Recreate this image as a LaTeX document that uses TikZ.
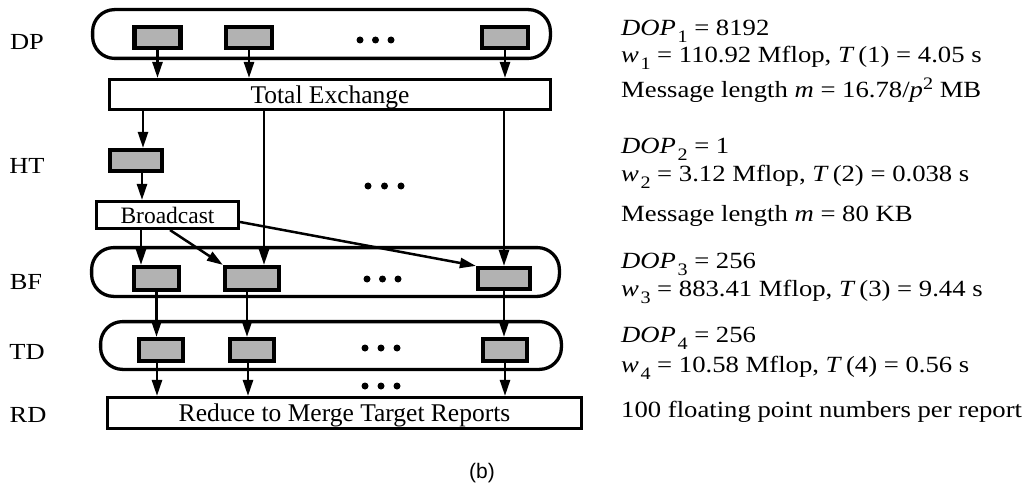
\documentclass[tikz,border=0pt]{standalone}
\usepackage{fontspec}
\setmainfont{Liberation Serif}
\newfontfamily\rfont{Liberation Serif}[FakeStretch=1.15]
\newfontfamily\lfont{Liberation Serif}[FakeStretch=1.15]
\newfontfamily\bfont{Liberation Sans}
\usetikzlibrary{arrows.meta}
\definecolor{boxgray}{RGB}{178,178,178}
\newcommand{\sbx}[1]{\kern1.5pt\raisebox{-7pt}{\fontsize{17.5}{18}\selectfont #1}}
\newcommand{\spx}[1]{\raisebox{8pt}{\fontsize{17.5}{18}\selectfont #1}}
\begin{document}
\begin{tikzpicture}[x=1pt,y=-1pt,
  cont/.style={draw, line width=3.3pt, rounded corners=22pt, inner sep=0pt, minimum height=48.8pt},
  gbox/.style={draw, fill=boxgray, line width=4.4pt, inner sep=0pt, minimum height=20.8pt},
  wbox/.style={draw, fill=white, line width=3.3pt, inner sep=0pt, text depth=0pt},
  arr/.style={line width=2.5pt, -{Triangle[length=16pt,width=10pt]}},
  lab/.style={inner sep=0pt, font=\lfont\fontsize{23}{24}\selectfont},
  rtext/.style={anchor=base west, inner sep=0pt, font=\rfont\fontsize{23.2}{28}\selectfont},
  dot/.style={fill=black}
]
\useasboundingbox (0,0) rectangle (1027,489);

% containers
\node[cont, minimum width=457.8pt] (dpc) at (321.5,34) {};
\node[cont, minimum width=467.8pt] (bfc) at (325.5,272) {};
\node[cont, minimum width=460.8pt, minimum height=47.8pt] (tdc) at (331,345.5) {};

% row labels
\node[lab] (lDP) at (27,42) {DP};
\node[lab] (lHT) at (27,166) {HT};
\node[lab] (lBF) at (26,282) {BF};
\node[lab] (lTD) at (27,352) {TD};
\node[lab] (lRD) at (28,415) {RD};

% DP boxes
\node[gbox, minimum width=45.8pt] (dp1) at (157.5,37.5) {};
\node[gbox, minimum width=45.8pt] (dp2) at (249,37.5) {};
\node[gbox, minimum width=45.8pt] (dp3) at (505,37.5) {};

% Total exchange
\node[wbox, minimum width=440.8pt, minimum height=29.8pt, font=\fontsize{25.5}{28}\selectfont] (te) at (330,94.5) {Total Exchange};

% HT
\node[gbox, minimum width=51.8pt] (ht) at (136,160.5) {};

% Broadcast
\node[wbox, minimum width=141.8pt, minimum height=26.8pt, font=\fontsize{23.5}{26}\selectfont] (bc) at (167.5,215) {Broadcast};

% BF boxes
\node[gbox, minimum width=44.8pt, minimum height=22.8pt] (bf1) at (156.5,278.5) {};
\node[gbox, minimum width=53.8pt, minimum height=22.8pt] (bf2) at (252,278.5) {};
\node[gbox, minimum width=51.8pt, minimum height=20.8pt] (bf3) at (504,278.5) {};

% TD boxes
\node[gbox, minimum width=43.8pt, minimum height=21.8pt] (td1) at (161,350) {};
\node[gbox, minimum width=43.8pt, minimum height=21.8pt] (td2) at (252,350) {};
\node[gbox, minimum width=43.8pt, minimum height=21.8pt] (td3) at (505,350) {};

% RD
\node[wbox, minimum width=473.8pt, minimum height=30.8pt, font=\fontsize{25.5}{28}\selectfont] (rd) at (344.5,413) {Reduce to Merge Target Reports};

% dots
\foreach \x in {360,375.5,391} \fill[dot] (\x,40) circle (3.5pt);
\foreach \x in {368,384.5,401} \fill[dot] (\x,186) circle (3.5pt);
\foreach \x in {367,382.5,398} \fill[dot] (\x,279) circle (3.5pt);
\foreach \x in {365,381,397} \fill[dot] (\x,348) circle (3.5pt);
\foreach \x in {365,381,397} \fill[dot] (\x,386) circle (3.5pt);

% connectors
\draw[arr] (dp1.south) -- (dp1.south |- te.north);
\draw[arr] (dp2.south) -- (dp2.south |- te.north);
\draw[arr] (dp3.south) -- (dp3.south |- te.north);
\draw[arr] ([xshift=7pt]ht.north |- te.south) -- ([xshift=7pt]ht.north);
\draw[arr] ([xshift=6pt]ht.south) -- ([xshift=6pt]ht.south |- bc.north);
\draw[arr] ([xshift=-15.5pt]bf1.north |- bc.south) -- ([xshift=-15.5pt]bf1.north);
\draw[arr] ([xshift=12pt]bf2.north |- te.south) -- ([xshift=12pt]bf2.north);
\draw[arr] (bf3.north |- te.south) -- (bf3.north);
\draw[arr] ([xshift=2.5pt]bc.south) -- (bf2.north west);
\draw[arr] ([yshift=-7pt]bc.east) -- (bf3.north west);
\draw[arr] (bf1.south) -- (bf1.south |- td1.north);
\draw[arr] ([xshift=-5pt]bf2.south) -- ([xshift=-5pt]bf2.south |- td2.north);
\draw[arr] (bf3.south) -- (bf3.south |- td3.north);
\draw[arr] ([xshift=-4pt]td1.south) -- ([xshift=-4pt]td1.south |- rd.north);
\draw[arr] ([xshift=-4pt]td2.south) -- ([xshift=-4pt]td2.south |- rd.north);
\draw[arr] (td3.south) -- (td3.south |- rd.north);

% right-hand text
\node[rtext] (t1) at (621,36) {\textit{DOP}\sbx{1} = 8192};
\node[rtext] (t2) at (621,63) {\textit{w}\sbx{1} = 110.92 Mflop, \textit{T}\kern4pt(1) = 4.05 s};
\node[rtext] (t3) at (621,98) {Message length \textit{m} = 16.78/\textit{p}\spx{2} MB};
\node[rtext] (t4) at (621,154) {\textit{DOP}\sbx{2} = 1};
\node[rtext] (t5) at (621,182) {\textit{w}\sbx{2} = 3.12 Mflop, \textit{T}\kern4pt(2) = 0.038 s};
\node[rtext] (t6) at (621,221) {Message length \textit{m} = 80 KB};
\node[rtext] (t7) at (621,268) {\textit{DOP}\sbx{3} = 256};
\node[rtext] (t8) at (621,296) {\textit{w}\sbx{3} = 883.41 Mflop, \textit{T}\kern4pt(3) = 9.44 s};
\node[rtext] (t9) at (621,342) {\textit{DOP}\sbx{4} = 256};
\node[rtext] (t10) at (621,372) {\textit{w}\sbx{4} = 10.58 Mflop, \textit{T}\kern4pt(4) = 0.56 s};
\node[rtext] (t11) at (621,417) {100 floating point numbers per report};

% caption
\node[inner sep=0pt, font=\bfont\fontsize{21}{22}\selectfont] (cap) at (482,473) {(b)};
\end{tikzpicture}
\end{document}
